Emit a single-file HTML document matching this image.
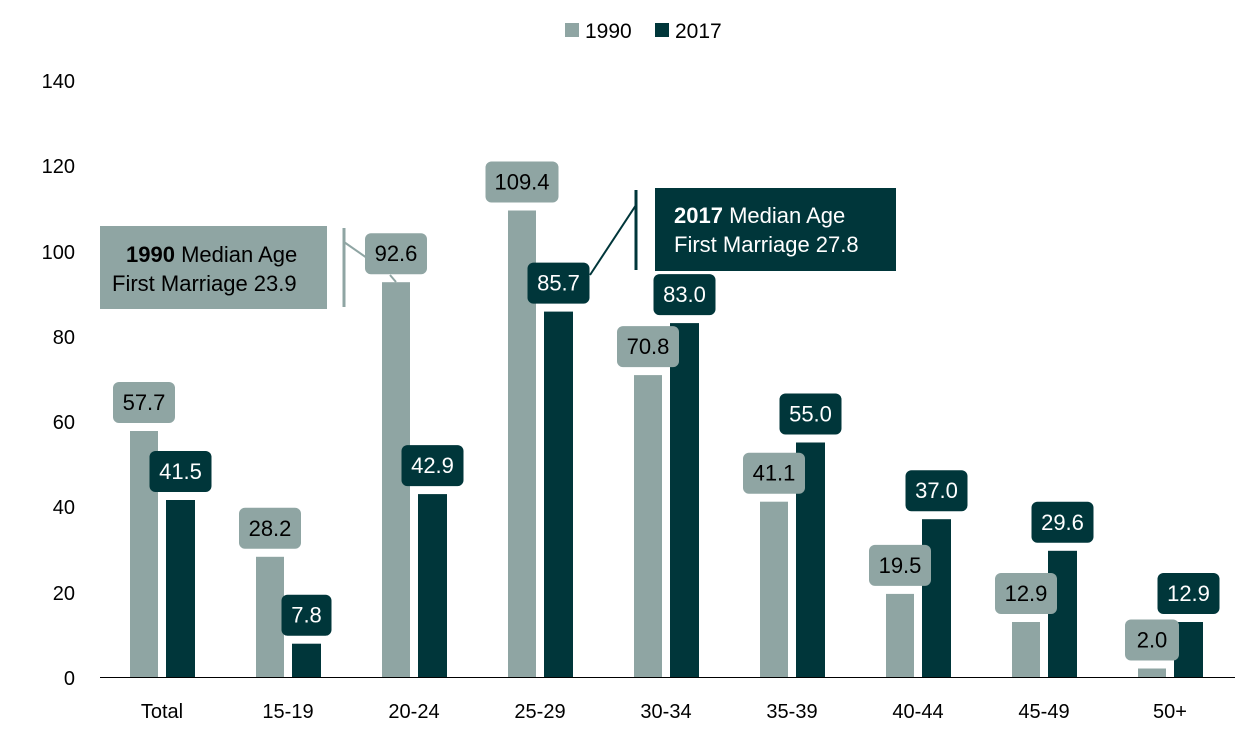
<!DOCTYPE html>
<html><head><style>body{margin:0;background:#fff}svg{display:block;font-family:"Liberation Sans",sans-serif}</style></head><body>
<svg width="1260" height="735" viewBox="0 0 1260 735">
<g font-size="21" fill="#000">
<rect x="565" y="23" width="14" height="14" fill="#8FA5A3"/><text x="585" y="38">1990</text>
<rect x="655" y="23" width="14" height="14" fill="#00363A"/><text x="675" y="38">2017</text>
</g>
<g font-size="20" text-anchor="end" fill="#000">
<text x="75" y="685">0</text><text x="75" y="600">20</text><text x="75" y="514">40</text><text x="75" y="429">60</text><text x="75" y="344">80</text><text x="75" y="259">100</text><text x="75" y="173">120</text><text x="75" y="88">140</text>
</g>
<line x1="100" y1="677.5" x2="1235" y2="677.5" stroke="#000" stroke-width="1"/>
<g fill="#8FA5A3">
<rect x="130" y="431" width="28" height="246"/>
<rect x="256" y="556.8" width="28" height="120.2"/>
<rect x="382" y="282.2" width="28" height="394.8"/>
<rect x="508" y="210.5" width="28" height="466.5"/>
<rect x="634" y="375.1" width="28" height="301.9"/>
<rect x="760" y="501.7" width="28" height="175.3"/>
<rect x="886" y="593.9" width="28" height="83.1"/>
<rect x="1012" y="622" width="28" height="55"/>
<rect x="1138" y="668.5" width="28" height="8.5"/>
</g>
<g fill="#00363A">
<rect x="166" y="500" width="29" height="177"/>
<rect x="292" y="643.7" width="29" height="33.3"/>
<rect x="418" y="494.1" width="29" height="182.9"/>
<rect x="544" y="311.6" width="29" height="365.4"/>
<rect x="670" y="323.1" width="29" height="353.9"/>
<rect x="796" y="442.5" width="29" height="234.5"/>
<rect x="922" y="519.2" width="29" height="157.8"/>
<rect x="1048" y="550.8" width="29" height="126.2"/>
<rect x="1174" y="622" width="29" height="55"/>
</g>
<g fill="#8FA5A3">
<rect x="113" y="382" width="62" height="41" rx="6"/>
<rect x="239" y="507.8" width="62" height="41" rx="6"/>
<rect x="365" y="233.2" width="62" height="41" rx="6"/>
<rect x="485.5" y="161.5" width="73" height="41" rx="6"/>
<rect x="617" y="326.1" width="62" height="41" rx="6"/>
<rect x="743" y="452.7" width="62" height="41" rx="6"/>
<rect x="869" y="544.9" width="62" height="41" rx="6"/>
<rect x="995" y="573" width="62" height="41" rx="6"/>
<rect x="1125" y="619.5" width="54" height="41" rx="6"/>
</g>
<g fill="#00363A">
<rect x="149.5" y="451" width="62" height="41" rx="6"/>
<rect x="281.5" y="594.7" width="50" height="41" rx="6"/>
<rect x="401.5" y="445.1" width="62" height="41" rx="6"/>
<rect x="527.5" y="262.6" width="62" height="41" rx="6"/>
<rect x="653.5" y="274.1" width="62" height="41" rx="6"/>
<rect x="779.5" y="393.5" width="62" height="41" rx="6"/>
<rect x="905.5" y="470.2" width="62" height="41" rx="6"/>
<rect x="1031.5" y="501.8" width="62" height="41" rx="6"/>
<rect x="1157.5" y="573" width="62" height="41" rx="6"/>
</g>
<g font-size="22" text-anchor="middle" fill="#000">
<text x="144" y="410">57.7</text>
<text x="270" y="536">28.2</text>
<text x="396" y="261">92.6</text>
<text x="522" y="189.5">109.4</text>
<text x="648" y="354">70.8</text>
<text x="774" y="480.7">41.1</text>
<text x="900" y="573">19.5</text>
<text x="1026" y="601">12.9</text>
<text x="1152" y="647.5">2.0</text>
</g>
<g font-size="22" text-anchor="middle" fill="#fff">
<text x="180.5" y="479">41.5</text>
<text x="306.5" y="622.7">7.8</text>
<text x="432.5" y="473">42.9</text>
<text x="558.5" y="290.6">85.7</text>
<text x="684.5" y="302">83.0</text>
<text x="810.5" y="421.5">55.0</text>
<text x="936.5" y="498">37.0</text>
<text x="1062.5" y="529.8">29.6</text>
<text x="1188.5" y="601">12.9</text>
</g>
<rect x="100" y="226" width="227" height="83" fill="#8FA5A3"/>
<line x1="344" y1="228" x2="344" y2="307" stroke="#8FA5A3" stroke-width="3"/>
<line x1="344" y1="242" x2="367" y2="258" stroke="#8FA5A3" stroke-width="2"/>
<line x1="390" y1="275" x2="396" y2="282" stroke="#8FA5A3" stroke-width="2"/>
<g font-size="22" fill="#000">
<text x="126" y="262"><tspan font-weight="bold">1990</tspan> Median Age</text>
<text x="112" y="291">First Marriage 23.9</text>
</g>
<rect x="655" y="188" width="241" height="83" fill="#00363A"/>
<line x1="636" y1="190" x2="636" y2="270" stroke="#00363A" stroke-width="3"/>
<line x1="636" y1="205" x2="590" y2="275" stroke="#00363A" stroke-width="2"/>
<g font-size="22" fill="#fff">
<text x="674" y="223"><tspan font-weight="bold">2017</tspan> Median Age</text>
<text x="674" y="252">First Marriage 27.8</text>
</g>
<g font-size="20" text-anchor="middle" fill="#000">
<text x="162" y="718">Total</text><text x="288" y="718">15-19</text><text x="414" y="718">20-24</text><text x="540" y="718">25-29</text><text x="666" y="718">30-34</text><text x="792" y="718">35-39</text><text x="918" y="718">40-44</text><text x="1044" y="718">45-49</text><text x="1170" y="718">50+</text>
</g>
</svg>
</body></html>
